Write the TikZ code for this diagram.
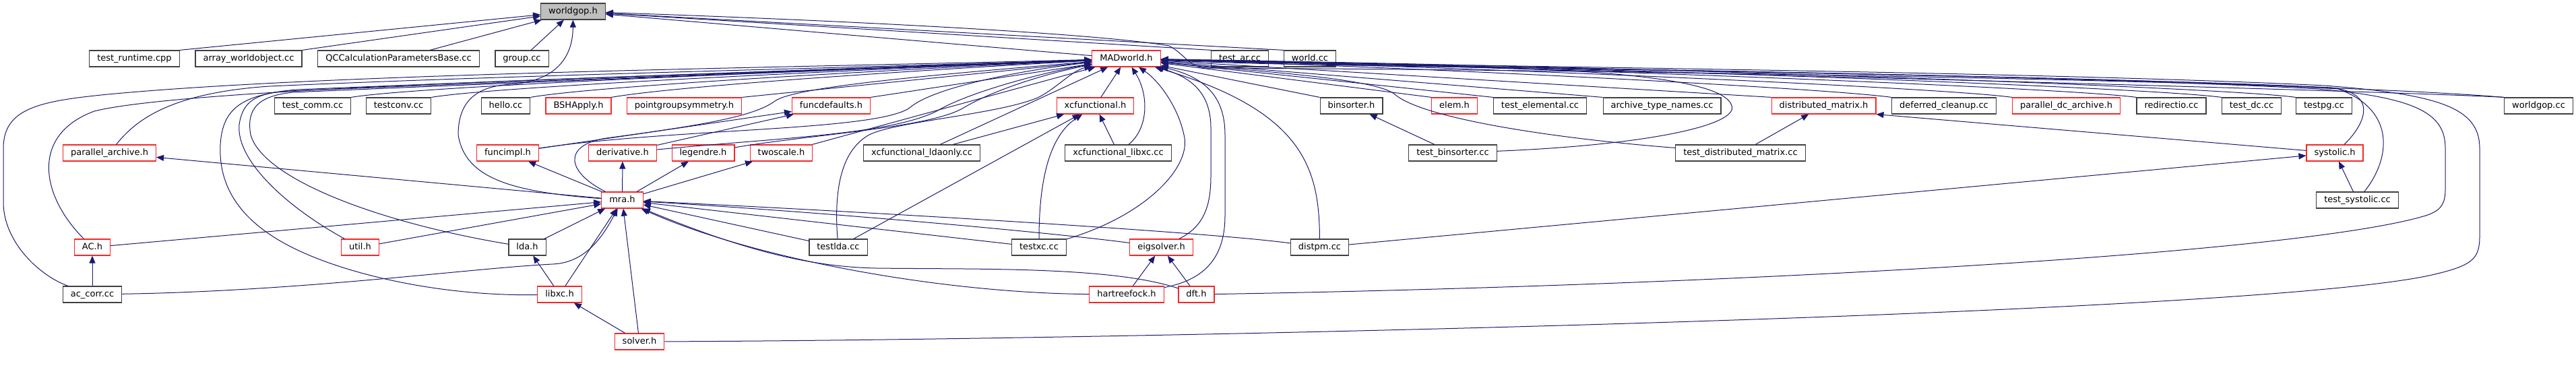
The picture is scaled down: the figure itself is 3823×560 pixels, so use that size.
\documentclass[tikz,border=0pt]{standalone}
\usepackage{fontspec}
\setmainfont{DejaVu Sans}
\usepackage{tikz}
\usetikzlibrary{arrows.meta}
\definecolor{dxblue}{RGB}{25,25,112}
\definecolor{dxgray}{RGB}{64,64,64}
\definecolor{dxred}{RGB}{245,40,40}
\definecolor{dxroot}{RGB}{191,191,191}
\tikzset{
  fnode/.style={draw=#1, fill=white, line width=1.2pt, font=\fontsize{13}{15}\selectfont,
                minimum height=24pt, inner xsep=11.5pt, inner ysep=0pt,
                text height=9.9pt, text depth=3.1pt},
  rootnode/.style={fnode=dxgray, fill=dxroot},
  incl/.style={draw=dxblue, line width=1pt, -{Triangle[length=11pt, width=9pt]}},
}
\begin{document}
\begin{tikzpicture}[x=1pt, y=-1pt]
\useasboundingbox (0,0) rectangle (3823,560);

% Included file
\node[rootnode] (worldgop) at (850.5,17) {worldgop.h};

% First row
\node[fnode=dxgray] (testruntime) at (199.5,87) {test\_runtime.cpp};
\node[fnode=dxgray] (arrayworld) at (369,87) {array\_worldobject.cc};
\node[fnode=dxgray] (qccalc) at (591.5,87) {QCCalculationParametersBase.cc};
\node[fnode=dxgray] (group) at (774.5,87) {group.cc};
\node[fnode=dxred] (madworld) at (1671.5,87) {MADworld.h};
\node[fnode=dxgray] (testar) at (1840,87) {test\_ar.cc};
\node[fnode=dxgray] (worldcc) at (1944,87) {world.cc};

% Second row
\node[fnode=dxgray] (testcomm) at (464,157) {test\_comm.cc};
\node[fnode=dxgray] (testconv) at (591.5,157) {testconv.cc};
\node[fnode=dxgray] (hello) at (750.5,157) {hello.cc};
\node[fnode=dxred] (bshapply) at (858.5,157) {BSHApply.h};
\node[fnode=dxred] (pointgroup) at (1015.5,157) {pointgroupsymmetry.h};
\node[fnode=dxred] (funcdefaults) at (1233.5,157) {funcdefaults.h};
\node[fnode=dxred] (xcfunc) at (1625.5,157) {xcfunctional.h};
\node[fnode=dxgray] (binsorter) at (2005.5,157) {binsorter.h};
\node[fnode=dxred] (elem) at (2158.5,157) {elem.h};
\node[fnode=dxgray] (testelem) at (2285.5,157) {test\_elemental.cc};
\node[fnode=dxgray] (archtypes) at (2466.5,157) {archive\_type\_names.cc};
\node[fnode=dxred] (distmatrix) at (2706.5,157) {distributed\_matrix.h};
\node[fnode=dxgray] (deferred) at (2885,157) {deferred\_cleanup.cc};
\node[fnode=dxred] (pardcarchive) at (3066.5,157) {parallel\_dc\_archive.h};
\node[fnode=dxgray] (redirectio) at (3222.5,157) {redirectio.cc};
\node[fnode=dxgray] (testdc) at (3341.5,157) {test\_dc.cc};
\node[fnode=dxgray] (testpg) at (3449,157) {testpg.cc};
\node[fnode=dxgray] (worldgopcc) at (3767.5,157) {worldgop.cc};

% Third row
\node[fnode=dxred] (pararchive) at (162.5,227) {parallel\_archive.h};
\node[fnode=dxred] (funcimpl) at (753.5,227) {funcimpl.h};
\node[fnode=dxred] (derivative) at (924,227) {derivative.h};
\node[fnode=dxred] (legendre) at (1043.5,227) {legendre.h};
\node[fnode=dxred] (twoscale) at (1159.5,227) {twoscale.h};
\node[fnode=dxgray] (xcldaonly) at (1368,227) {xcfunctional\_ldaonly.cc};
\node[fnode=dxgray] (xclibxccc) at (1659.5,227) {xcfunctional\_libxc.cc};
\node[fnode=dxgray] (testbinsorter) at (2156,227) {test\_binsorter.cc};
\node[fnode=dxgray] (testdistmatrix) at (2583,227) {test\_distributed\_matrix.cc};
\node[fnode=dxred] (systolic) at (3465,227) {systolic.h};

% Fourth row and below
\node[fnode=dxred] (mra) at (923.5,297) {mra.h};
\node[fnode=dxgray] (testsystolic) at (3498.5,297) {test\_systolic.cc};
\node[fnode=dxred] (ach) at (137,367) {AC.h};
\node[fnode=dxred] (util) at (534.5,367) {util.h};
\node[fnode=dxgray] (lda) at (782.5,367) {lda.h};
\node[fnode=dxgray] (testlda) at (1244,367) {testlda.cc};
\node[fnode=dxgray] (testxc) at (1542,367) {testxc.cc};
\node[fnode=dxred] (eigsolver) at (1723.5,367) {eigsolver.h};
\node[fnode=dxgray] (distpm) at (1958.5,367) {distpm.cc};
\node[fnode=dxgray] (accorr) at (137,437) {ac\_corr.cc};
\node[fnode=dxred] (libxc) at (830.5,437) {libxc.h};
\node[fnode=dxred] (hartreefock) at (1672,437) {hartreefock.h};
\node[fnode=dxred] (dft) at (1775.5,437) {dft.h};
\node[fnode=dxred] (solver) at (949,507) {solver.h};

% Edges into worldgop.h
\draw[incl] (testruntime.north east) -- (worldgop);
\draw[incl] (arrayworld.north east) -- (worldgop);
\draw[incl] (qccalc) -- (worldgop);
\draw[incl] (group) -- (worldgop);
\draw[incl] (madworld) -- (worldgop);
\draw[incl] (testar.north west) -- (worldgop);
\draw[incl] (worldcc.north west) -- (worldgop);
\draw[incl] (mra) .. controls (760,285) and (690,265) .. (680,200) .. controls (680,140) and (720,127) .. (760,125) .. controls (820,120) and (850,90) .. (worldgop);
\draw[incl] (worldgopcc.north west) .. controls (3400,118) and (2300,103) .. (1790,101) .. controls (1765,100) and (1758,80) .. (1735,68) .. controls (1600,45) and (1100,25) .. (worldgop);

% Second row into MADworld.h
\draw[incl] (testcomm.north east) .. controls (620,128) and (1200,105) .. (madworld);
\draw[incl] (testconv.north east) .. controls (740,128) and (1250,105) .. (madworld);
\draw[incl] (hello.north east) .. controls (880,128) and (1300,105) .. (madworld);
\draw[incl] (bshapply.north east) .. controls (1000,128) and (1350,105) .. (madworld);
\draw[incl] (pointgroup.north east) -- (madworld);
\draw[incl] (funcdefaults.north east) -- (madworld);
\draw[incl] (xcfunc) -- (madworld);
\draw[incl] (binsorter.north west) -- (madworld);
\draw[incl] (elem.north west) -- (madworld);
\draw[incl] (testelem.north west) -- (madworld);
\draw[incl] (archtypes.north west) -- (madworld);
\draw[incl] (distmatrix.north west) -- (madworld);
\draw[incl] (deferred.north west) .. controls (2700,130) and (2100,100) .. (madworld);
\draw[incl] (pardcarchive.north west) .. controls (2880,130) and (2200,100) .. (madworld);
\draw[incl] (redirectio.north west) .. controls (3060,130) and (2300,100) .. (madworld);
\draw[incl] (testdc.north west) .. controls (3190,130) and (2400,100) .. (madworld);
\draw[incl] (testpg.north west) .. controls (3300,130) and (2500,100) .. (madworld);
\draw[incl] (worldgopcc.north west) .. controls (3600,138) and (3000,120) .. (madworld);

% mra.h and its headers
\draw[incl] (mra) -- (pararchive);
\draw[incl] (mra) -- (funcimpl);
\draw[incl] (mra) -- (derivative);
\draw[incl] (mra) -- (legendre);
\draw[incl] (mra) -- (twoscale);
\draw[incl] (mra) .. controls (840,255) and (835,215) .. (900,205) .. controls (1050,185) and (1120,172) .. (1150,150) .. controls (1180,128) and (1400,110) .. (madworld);
\draw[incl] (funcimpl) -- (funcdefaults);
\draw[incl] (derivative) -- (funcdefaults);
\draw[incl] (funcimpl) .. controls (1000,190) and (1300,195) .. (1350,160) .. controls (1390,125) and (1550,100) .. (madworld);
\draw[incl] (derivative) .. controls (1150,205) and (1320,200) .. (1390,165) .. controls (1440,135) and (1560,105) .. (madworld);
\draw[incl] (legendre) .. controls (1200,200) and (1380,190) .. (1430,160) .. controls (1480,130) and (1570,105) .. (madworld);
\draw[incl] (twoscale) -- (madworld);

% xcfunctional
\draw[incl] (xcldaonly) -- (xcfunc);
\draw[incl] (xcldaonly) -- (madworld);
\draw[incl] (xclibxccc) -- (xcfunc);
\draw[incl] (xclibxccc) .. controls (1705,190) and (1705,140) .. (madworld);
\draw[incl] (testlda) -- (xcfunc);
\draw[incl] (testlda) -- (mra);
\draw[incl] (testlda) .. controls (1238,290) and (1245,225) .. (1290,200) .. controls (1330,180) and (1480,170) .. (1540,145) .. controls (1570,130) and (1590,105) .. (madworld);
\draw[incl] (testxc) .. controls (1542,260) and (1560,200) .. (xcfunc);
\draw[incl] (testxc) -- (mra);
\draw[incl] (testxc) .. controls (1700,320) and (1765,250) .. (1758,205) .. controls (1750,160) and (1720,120) .. (madworld);

% eigsolver, hartreefock, dft
\draw[incl] (eigsolver) .. controls (1600,350) and (1300,320) .. (mra);
\draw[incl] (eigsolver) .. controls (1790,335) and (1797,300) .. (1797,260) -- (1797,190) .. controls (1797,140) and (1770,115) .. (madworld);
\draw[incl] (hartreefock) -- (eigsolver);
\draw[incl] (dft) -- (eigsolver);
\draw[incl] (hartreefock) .. controls (1400,435) and (1120,385) .. (mra);
\draw[incl] (dft) .. controls (1650,395) and (1450,400) .. (1300,398) .. controls (1200,396) and (1100,370) .. (mra);
\draw[incl] (hartreefock) .. controls (1790,415) and (1818,380) .. (1818,320) -- (1818,200) .. controls (1818,145) and (1790,115) .. (madworld);
\draw[incl] (dft) .. controls (2500,425) and (3400,380) .. (3600,320) .. controls (3625,312) and (3629,300) .. (3629,280) -- (3629,220) .. controls (3629,170) and (3590,145) .. (3440,132) .. controls (3000,108) and (2100,100) .. (madworld);

% distpm, binsorter, distributed matrix, systolic
\draw[incl] (distpm) .. controls (1800,345) and (1300,315) .. (mra);
\draw[incl] (distpm) .. controls (1958,250) and (1935,165) .. (madworld);
\draw[incl] (distpm) -- (systolic);
\draw[incl] (testbinsorter) -- (binsorter);
\draw[incl] (testbinsorter) .. controls (2450,215) and (2580,185) .. (2570,157) .. controls (2560,120) and (2400,105) .. (2200,100) .. controls (2000,97) and (1850,95) .. (madworld);
\draw[incl] (testdistmatrix) -- (distmatrix);
\draw[incl] (testdistmatrix) .. controls (2300,205) and (2110,175) .. (2070,140) .. controls (2040,115) and (1850,105) .. (madworld);
\draw[incl] (systolic) -- (distmatrix.south east);
\draw[incl] (systolic) .. controls (3500,195) and (3540,140) .. (3460,130) .. controls (3100,112) and (2100,100) .. (madworld);
\draw[incl] (testsystolic) -- (systolic);
\draw[incl] (testsystolic) .. controls (3545,240) and (3560,165) .. (3470,132) .. controls (3100,110) and (2100,100) .. (madworld);

% Left side headers
\draw[incl] (ach) -- (mra);
\draw[incl] (util) -- (mra);
\draw[incl] (lda) -- (mra);
\draw[incl] (libxc) -- (lda);
\draw[incl] (libxc) -- (mra);
\draw[incl] (accorr) -- (ach);
\draw[incl] (accorr) .. controls (450,432) and (700,398) .. (820,392) .. controls (870,390) and (895,350) .. (mra);
\draw[incl] (accorr) .. controls (60,410) and (5,360) .. (5,300) -- (5,220) .. controls (5,160) and (60,150) .. (160,140) .. controls (500,108) and (1200,100) .. (madworld);
\draw[incl] (ach) .. controls (60,290) and (45,200) .. (140,165) .. controls (300,125) and (1200,108) .. (madworld);
\draw[incl] (pararchive) .. controls (200,180) and (250,138) .. (400,128) .. controls (800,110) and (1300,100) .. (madworld);
\draw[incl] (util) .. controls (430,310) and (350,240) .. (355,185) .. controls (360,150) and (380,138) .. (430,135) .. controls (800,120) and (1300,101) .. (madworld);
\draw[incl] (lda) .. controls (560,330) and (390,265) .. (372,200) .. controls (365,160) and (385,142) .. (435,137) .. controls (800,121) and (1300,102) .. (madworld);
\draw[incl] (libxc) .. controls (650,440) and (500,405) .. (420,360) .. controls (340,315) and (325,260) .. (327,215) .. controls (330,160) and (360,140) .. (440,133) .. controls (800,118) and (1300,100) .. (madworld);

% solver.h
\draw[incl] (solver) -- (libxc);
\draw[incl] (solver) -- (mra);
\draw[incl] (solver) .. controls (1600,505) and (3300,470) .. (3600,410) .. controls (3670,395) and (3680,385) .. (3680,350) -- (3680,220) .. controls (3680,160) and (3620,140) .. (3450,127) .. controls (3000,105) and (2100,98) .. (madworld);

\end{tikzpicture}
\end{document}
